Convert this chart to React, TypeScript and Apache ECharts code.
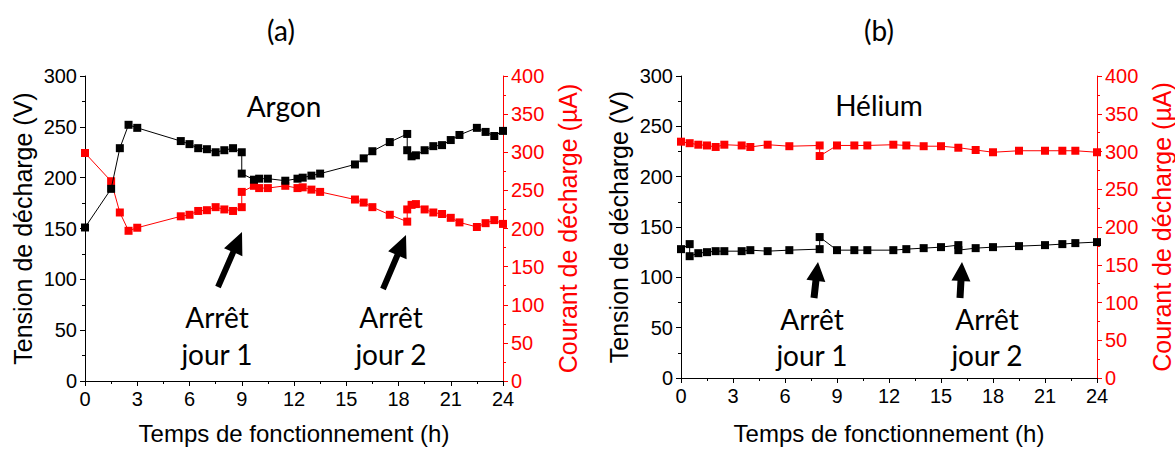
import React, { useEffect, useRef } from "react";
import * as echarts from "echarts";

// ---- Data ----
const timeArgon = [0, 1.5, 2, 2.5, 3, 5.5, 6, 6.5, 7, 7.5, 8, 8.5, 9, 9, 9.7, 10, 10.5, 11.5, 12.2, 12.5, 13, 13.5, 15.5, 16, 16.5, 17.5, 18.5, 18.5, 18.75, 19, 19.5, 20, 20.5, 21, 21.5, 22.5, 23, 23.5, 24];
const voltArgon = [151, 189, 229, 252, 249, 236, 233, 229, 228, 225, 227, 229, 225, 204, 198, 199, 199, 197, 199, 200, 202, 204, 213, 219, 226, 235, 243, 227, 221, 222, 227, 231, 232, 237, 242, 249, 245, 241, 246];
const currArgon = [299, 262, 221, 197, 201, 216, 218, 223, 224, 228, 225, 223, 228, 248, 256, 253, 253, 256, 253, 254, 251, 248, 238, 234, 228, 218, 209, 225, 231, 232, 225, 221, 219, 214, 208, 202, 207, 211, 206];

const timeHeliumV = [0, 0.5, 0.5, 1, 1.5, 2, 2.5, 3.5, 4, 5, 6.25, 8, 8, 9, 10, 10.75, 12.25, 13, 14, 15, 16, 16, 17, 18, 19.5, 21, 22, 22.75, 24];
const voltHelium = [128, 133, 121, 124, 125, 126, 126, 126, 127, 126, 127, 128, 140, 127, 127, 127, 127, 128, 129, 130, 132, 127, 129, 130, 131, 132, 133, 134, 135];
const timeHeliumI = [0, 0.5, 1, 1.5, 2, 2.5, 3.5, 4, 5, 6.25, 8, 8, 9, 10, 10.75, 12.25, 13, 14, 15, 16, 17, 18, 19.5, 21, 22, 22.75, 24];
const currHelium = [313, 311, 309, 308, 306, 309, 308, 306, 309, 307, 308, 294, 308, 308, 308, 309, 308, 307, 307, 305, 302, 299, 301, 301, 301, 301, 299];

const panelTitles = ["(a)", "(b)"];
const gasNames = ["Argon", "Hélium"];
const stopLabels = ["Arrêt\njour 1", "Arrêt\njour 2"];
const xName = "Temps de fonctionnement (h)";
const yLeftName = "Tension de décharge (V)";
const yRightName = "Courant de décharge (µA)";

const zip = (xs: number[], ys: number[]) => xs.map((x, i) => [x, ys[i]]);

function arrowPts(tx: number, ty: number, hx: number, hy: number, sw: number, hw: number, hl: number) {
  const dx = hx - tx, dy = hy - ty;
  const L = Math.hypot(dx, dy);
  const ux = dx / L, uy = dy / L;
  const px = -uy, py = ux;
  const bx = hx - ux * hl, by = hy - uy * hl;
  return [
    [tx + (px * sw) / 2, ty + (py * sw) / 2],
    [bx + (px * sw) / 2, by + (py * sw) / 2],
    [bx + (px * hw) / 2, by + (py * hw) / 2],
    [hx, hy],
    [bx - (px * hw) / 2, by - (py * hw) / 2],
    [bx - (px * sw) / 2, by - (py * sw) / 2],
    [tx - (px * sw) / 2, ty - (py * sw) / 2],
  ];
}

const AX_FONT = "Liberation Sans, Arial, sans-serif";
const TXT_FONT = "Lato, Open Sans, sans-serif";

export default function App() {
  const ref = useRef<HTMLDivElement>(null);
  useEffect(() => {
    document.body.style.margin = "0";
    if (!ref.current) return;
    const chart = echarts.init(ref.current, undefined, { renderer: "svg" });

    const xAxisBase = (gridIndex: number, gap: number) => ({
      type: "value",
      gridIndex,
      min: 0,
      max: 24,
      interval: 3,
      name: xName,
      nameLocation: "middle",
      nameGap: gap,
      nameTextStyle: { fontSize: 24, color: "#000", fontFamily: AX_FONT },
      axisLine: { show: true, onZero: false, lineStyle: { color: "#000", width: 1 } },
      axisTick: { show: true, length: 5, lineStyle: { color: "#000" } },
      minorTick: { show: true, splitNumber: 2, length: 3, lineStyle: { color: "#000" } },
      splitLine: { show: false },
      axisLabel: { fontSize: 20, color: "#000", fontFamily: AX_FONT, margin: 8 },
    });
    const yLeft = (gridIndex: number) => ({
      type: "value",
      gridIndex,
      position: "left",
      min: 0,
      max: 300,
      interval: 50,
      name: yLeftName,
      nameLocation: "middle",
      nameRotate: 90,
      nameGap: 50,
      nameTextStyle: { fontSize: 25, color: "#000", fontFamily: AX_FONT },
      axisLine: { show: true, lineStyle: { color: "#000", width: 1 } },
      axisTick: { show: true, length: 5, lineStyle: { color: "#000" } },
      minorTick: { show: true, splitNumber: 2, length: 3, lineStyle: { color: "#000" } },
      splitLine: { show: false },
      axisLabel: { fontSize: 20, color: "#000", fontFamily: AX_FONT, margin: 8 },
    });
    const yRight = (gridIndex: number) => ({
      type: "value",
      gridIndex,
      position: "right",
      min: 0,
      max: 400,
      interval: 50,
      name: yRightName,
      nameLocation: "middle",
      nameRotate: 90,
      nameGap: 52,
      nameTextStyle: { fontSize: 25, color: "#ff0000", fontFamily: AX_FONT },
      axisLine: { show: true, lineStyle: { color: "#ff0000", width: 1 } },
      axisTick: { show: true, length: 5, lineStyle: { color: "#ff0000" } },
      minorTick: { show: true, splitNumber: 2, length: 3, lineStyle: { color: "#ff0000" } },
      splitLine: { show: false },
      axisLabel: { fontSize: 20, color: "#ff0000", fontFamily: AX_FONT, margin: 8 },
    });

    const lineSeries = (data: number[][], xi: number, yi: number, color: string) => ({
      type: "line",
      xAxisIndex: xi,
      yAxisIndex: yi,
      data,
      symbol: "rect",
      symbolSize: 8,
      showSymbol: true,
      itemStyle: { color },
      lineStyle: { color, width: 1 },
      z: color === "#000" ? 3 : 2,
    });

    const arrows = [
      arrowPts(218, 287, 242, 232, 6, 20, 22),
      arrowPts(383, 289, 406, 235, 6, 20, 22),
      arrowPts(814, 298, 818, 262, 7, 19, 19),
      arrowPts(960, 298, 962, 262, 7, 19, 19),
    ];

    const textEl = (x: number, y: number, text: string, size: number, lh?: number) => ({
      type: "text",
      x,
      y,
      style: {
        text,
        fill: "#000",
        fontSize: size,
        fontFamily: TXT_FONT,
        textAlign: "center",
        textVerticalAlign: "middle",
        lineHeight: lh ?? size * 1.2,
      },
    });

    chart.setOption({
      animation: false,
      backgroundColor: "#fff",
      grid: [
        { left: 85, top: 76, width: 418, height: 307 },
        { left: 681, top: 76, width: 416, height: 307 },
      ],
      xAxis: [xAxisBase(0, 40), xAxisBase(1, 43)],
      yAxis: [yLeft(0), yRight(0), yLeft(1), yRight(1)],
      series: [
        lineSeries(zip(timeArgon, currArgon), 0, 1, "#ff0000"),
        lineSeries(zip(timeArgon, voltArgon), 0, 0, "#000"),
        lineSeries(zip(timeHeliumI, currHelium), 1, 3, "#ff0000"),
        lineSeries(zip(timeHeliumV, voltHelium), 1, 2, "#000"),
      ],
      graphic: [
        textEl(281, 30, panelTitles[0], 28),
        textEl(879, 30, panelTitles[1], 28),
        textEl(284, 106, gasNames[0], 28),
        textEl(879, 105, gasNames[1], 28),
        ...arrows.map((pts) => ({
          type: "polygon",
          shape: { points: pts },
          style: { fill: "#000" },
        })),
        textEl(217, 335, stopLabels[0], 28, 37),
        textEl(391, 335, stopLabels[1], 28, 37),
        textEl(812, 337, stopLabels[0], 28, 36),
        textEl(987, 337, stopLabels[1], 28, 36),
      ],
    });
    return () => chart.dispose();
  }, []);
  return <div ref={ref} style={{ width: 1175, height: 450 }} />;
}
